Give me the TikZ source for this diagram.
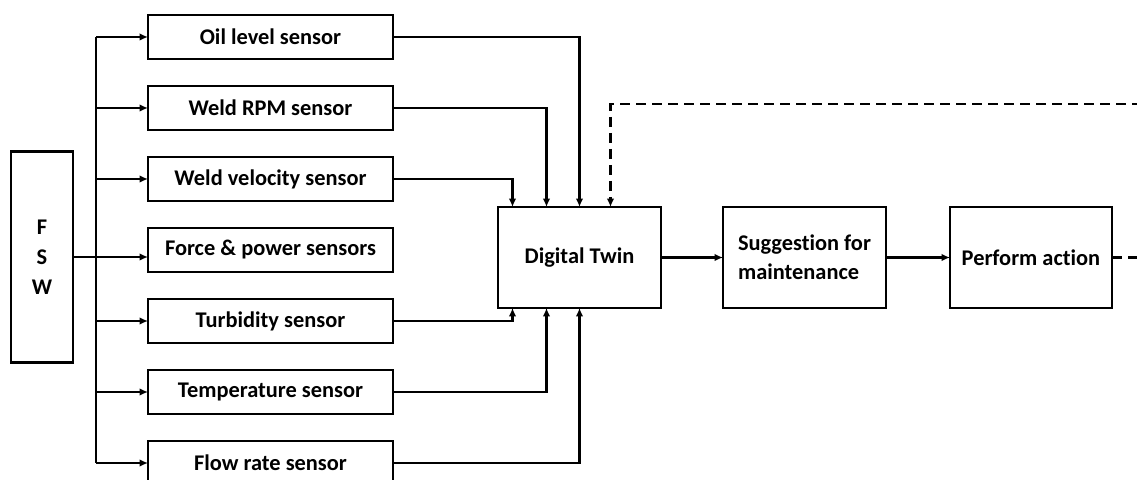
\documentclass[tikz,border=0pt]{standalone}
\usepackage{fontspec}
\setmainfont{Carlito}[Ligatures=NoCommon]
\usetikzlibrary{positioning, arrows.meta, calc}

\begin{document}
\begin{tikzpicture}[x=0.5pt, y=-0.5pt,
  every node/.style={font=\fontsize{11.2}{14.5}\selectfont\bfseries},
  box/.style={draw, line width=1.2pt, inner sep=0pt, outer sep=0pt},
  sensor/.style={box, minimum width=122.5pt, minimum height=22pt},
  block/.style={box, minimum width=81.5pt, minimum height=50.5pt},
  wire/.style={line width=1.1pt},
  link/.style={wire, -{Latex[length=4.2pt, width=3.8pt]}},
  feedback/.style={link, dash pattern=on 5pt off 3pt}]
\useasboundingbox (0,0) rectangle (1137,480);
\clip (0,0) rectangle (1137,480);
\node[box, minimum width=31pt, minimum height=105.5pt, align=center, font=\fontsize{11.2}{15}\selectfont\bfseries] (fsw) at (42,257) {F\\S\\W};
\node[sensor] (oil) at (270.5,37) {Oil level sensor};
\node[sensor, below=13.5pt of oil] (rpm) {Weld RPM sensor};
\node[sensor, below=13.5pt of rpm] (vel) {Weld velocity sensor};
\node[sensor, below=13.5pt of vel] (force) {Force \& power sensors};
\node[sensor, below=13.5pt of force] (turb) {Turbidity sensor};
\node[sensor, below=13.5pt of turb] (temp) {Temperature sensor};
\node[sensor, below=13.5pt of temp] (flow) {Flow rate sensor};
\node[block] (dt) at (579.5,257.5) {Digital Twin};
\node[block, right=31pt of dt, align=left] (sugg) {Suggestion for\\maintenance};
\node[block, minimum width=81pt, right=32pt of sugg] (act) {Perform action};
% sensor bus
\coordinate (bus) at (96,0);
\draw[wire] (bus |- oil) -- (bus |- flow);
\foreach \s in {oil, rpm, vel, turb, temp, flow}
  \draw[link] (bus |- \s) -- (\s.west);
\draw[link] (fsw.east) -- (fsw.east -| force.west);
% into the digital twin
\draw[link] (oil.east) -| (dt.north);
\draw[link] (rpm.east) -| ($(dt.north)+(-33,0)$);
\draw[link] (vel.east) -| ($(dt.north)+(-67,0)$);
\draw[link] (turb.east) -| ($(dt.south)+(-67,0)$);
\draw[link] (temp.east) -| ($(dt.south)+(-33,0)$);
\draw[link] (flow.east) -| (dt.south);
\draw[link] (dt) -- (sugg);
\draw[link] (sugg) -- (act);
% feedback loop
\coordinate (edge) at (1138,104);
\draw[feedback] (act.east) -- (act.east -| edge) -- (edge) -| ($(dt.north)+(31,0)$);
\end{tikzpicture}
\end{document}
